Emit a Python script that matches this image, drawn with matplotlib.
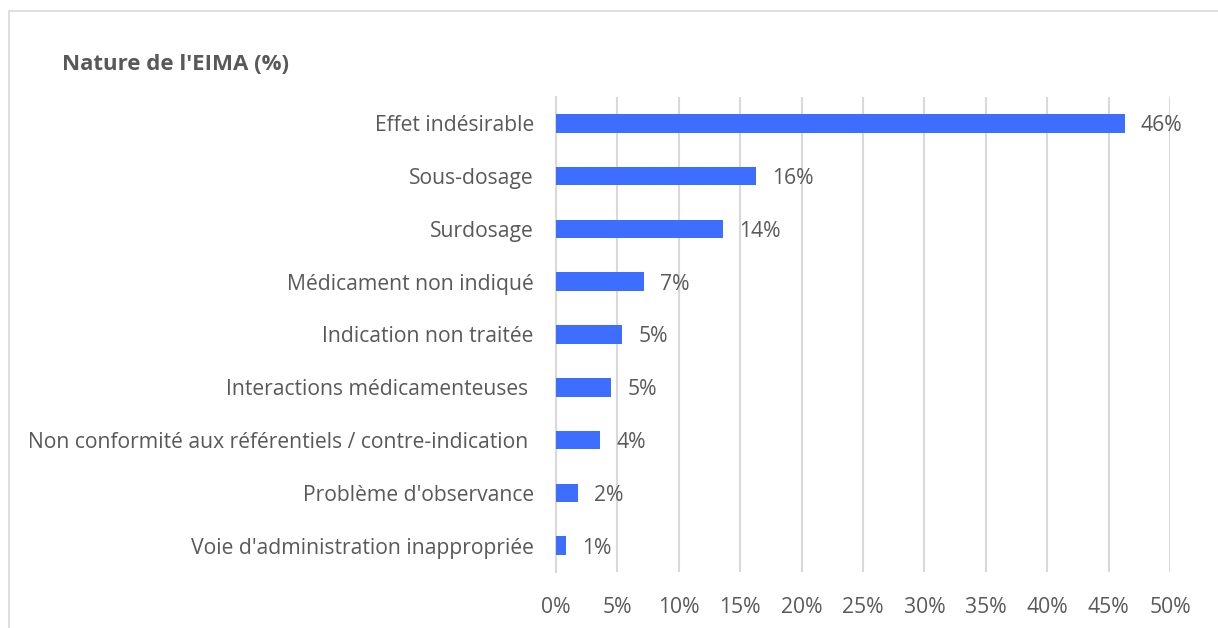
import matplotlib
matplotlib.use("Agg")
import matplotlib.pyplot as plt
from matplotlib.patches import Rectangle

categories = [
    "Effet indésirable",
    "Sous-dosage",
    "Surdosage",
    "Médicament non indiqué",
    "Indication non traitée",
    "Interactions médicamenteuses ",
    "Non conformité aux référentiels / contre-indication ",
    "Problème d'observance",
    "Voie d'administration inappropriée",
]
values = [46.3, 16.3, 13.6, 7.2, 5.4, 4.5, 3.6, 1.8, 0.8]
value_labels = ["46%", "16%", "14%", "7%", "5%", "5%", "4%", "2%", "1%"]
xticks = [0, 5, 10, 15, 20, 25, 30, 35, 40, 45, 50]
xtick_labels = [f"{t}%" for t in xticks]
title = "Nature de l'EIMA (%)"

W, H = 1218, 628
fig = plt.figure(figsize=(W / 100, H / 100), dpi=100)
font = "Open Sans"
txt = "#595959"
grid = "#d9d9d9"
bar_color = "#3d6eff"
fs = 15.2

# outer frame
fig.patches.append(Rectangle((9 / W, -0.1), 1.2, 1 - 11 / H + 0.1,
                             transform=fig.transFigure, fill=False,
                             edgecolor=grid, linewidth=1.2))

ax = fig.add_axes([556 / W, 1 - 572 / H, (1170 - 556) / W, (572 - 97) / H])
ypos = list(range(len(categories)))
ax.barh(ypos, values, height=0.35, color=bar_color, zorder=3)
ax.set_ylim(len(categories) - 0.5, -0.5)
ax.set_xlim(0, 50)
ax.set_xticks(xticks)
ax.set_xticklabels(xtick_labels, fontsize=fs, color=txt, family=font)
ax.set_yticks(ypos)
ax.set_yticklabels(categories, fontsize=fs, color=txt, family=font,
                   va="center_baseline")
ax.tick_params(axis="both", length=0)
ax.tick_params(axis="y", pad=16)
ax.tick_params(axis="x", pad=18)
ax.xaxis.grid(True, color=grid, linewidth=1.5, zorder=0)
for s in ["top", "right", "bottom"]:
    ax.spines[s].set_visible(False)
ax.spines["left"].set_color(grid)
ax.spines["left"].set_linewidth(1.5)

for y, v, lab in zip(ypos, values, value_labels):
    ax.annotate(lab, (v, y), xytext=(11.5, 0), textcoords="offset points",
                va="center_baseline", ha="left", fontsize=fs, color=txt,
                family=font)

fig.text(62 / W, 1 - 62 / H, title, fontsize=16, fontweight="bold",
         color=txt, family=font, va="center_baseline", ha="left")

fig.savefig("out.png", dpi=100)
